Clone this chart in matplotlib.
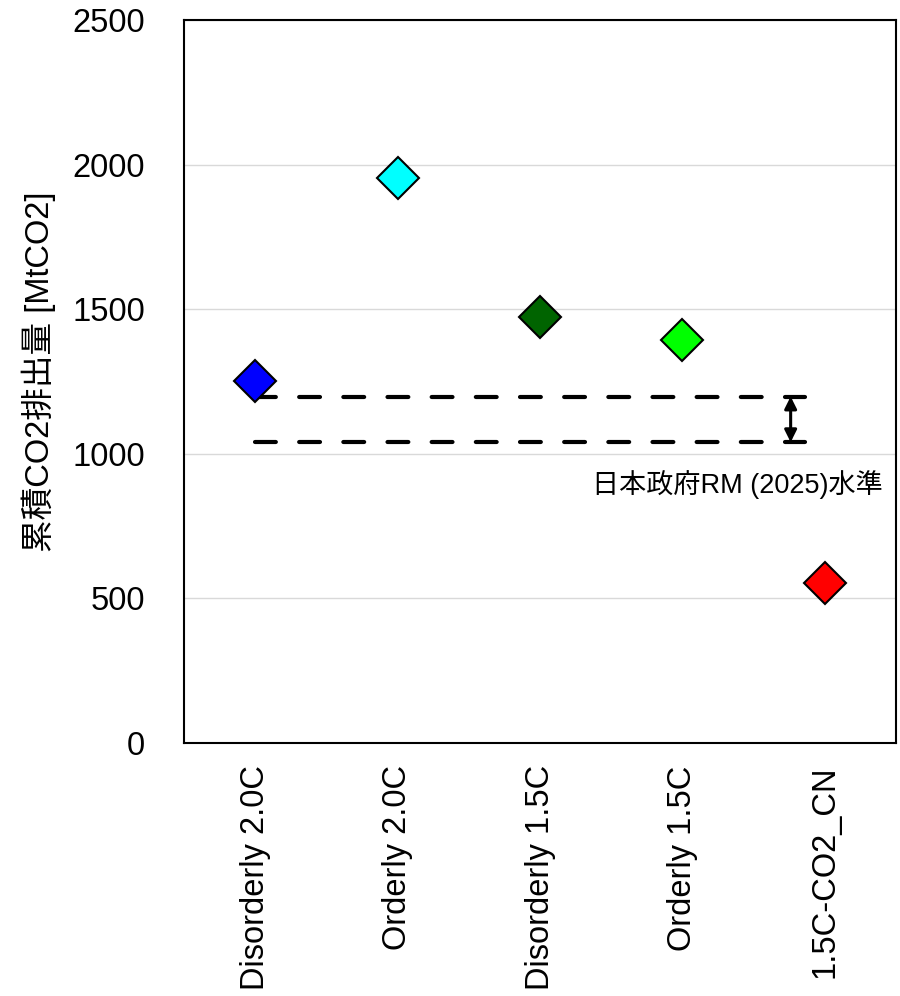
import matplotlib
matplotlib.use("Agg")
import matplotlib.pyplot as plt
import numpy as np

plt.rcParams['font.family'] = ['Liberation Sans', 'Noto Sans CJK JP', 'DejaVu Sans']

# scenario results
scenarios = ['Disorderly 2.0C', 'Orderly 2.0C', 'Disorderly 1.5C', 'Orderly 1.5C', '1.5C-CO2_CN']
emissions = [1250, 1955, 1472, 1392, 552]
colors = ['#0000FF', '#00FFFF', '#006400', '#00FF00', '#FF0000']

# Japanese government roadmap (2025) range
rm_low = 1040
rm_high = 1198
rm_label = '日本政府RM (2025)水準'

yticks = [0, 500, 1000, 1500, 2000, 2500]

fig = plt.figure(figsize=(9, 9.96), dpi=100)
ax = fig.add_axes([0.2044, 0.254, 0.7912, 0.726])

x = np.arange(len(scenarios)) + 0.5

# dashed range lines
for v in [rm_high, rm_low]:
    ax.plot([0.5, 4.36], [v, v], color='black', lw=3, dashes=(5.0, 5.6),
            dash_capstyle='round', zorder=2)

ax.annotate('', xy=(4.26, rm_low), xytext=(4.26, rm_high),
            arrowprops=dict(arrowstyle='<|-|>', color='black', lw=2.2,
                            mutation_scale=18, shrinkA=0, shrinkB=0), zorder=3)
ax.text(4.91, 892, rm_label, ha='right', va='center', fontsize=19.5)

for xi, yi, c in zip(x, emissions, colors):
    ax.plot(xi, yi, marker='D', ms=21, mfc=c, mec='black', mew=1.5, ls='none', zorder=4)

ax.set_xlim(0, 5)
ax.set_ylim(0, 2500)
ax.set_yticks(yticks)
ax.set_xticks(x)
ax.set_xticklabels(scenarios, rotation=90)
ax.tick_params(axis='both', length=0, labelsize=23.5)
ax.tick_params(axis='y', pad=28)
ax.tick_params(axis='x', pad=16)
ax.yaxis.grid(True, color='#d9d9d9', lw=1)
ax.set_axisbelow(True)
for s in ax.spines.values():
    s.set_linewidth(1.5)
ax.set_ylabel('累積CO2排出量 [MtCO2]', fontsize=23.5)
ax.yaxis.set_label_coords(-0.18, 0.513)

fig.savefig('out.png', dpi=100)
